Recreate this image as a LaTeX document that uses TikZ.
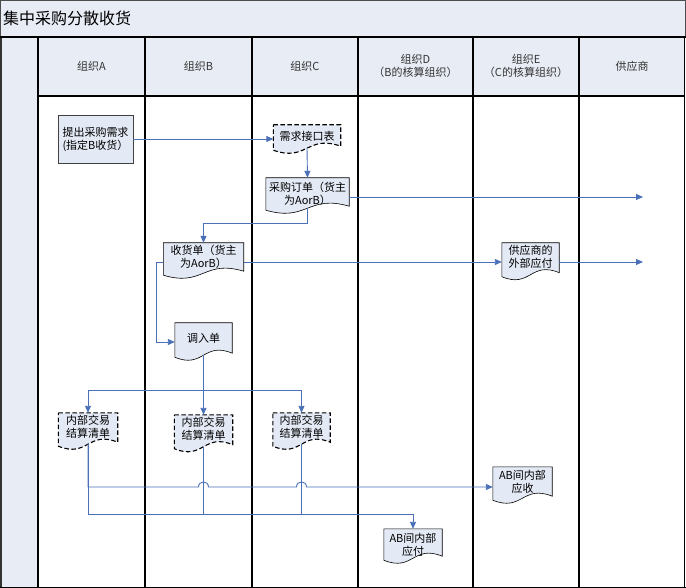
\documentclass[tikz,border=0pt]{standalone}
\usepackage{fontspec}
\setmainfont{Noto Sans CJK SC}
\usetikzlibrary{arrows.meta,calc}
\definecolor{lanefill}{RGB}{232,236,245}
\definecolor{nodefill}{RGB}{228,234,245}
\definecolor{connc}{RGB}{74,112,184}
\pgfdeclarelayer{lanes}
\pgfdeclarelayer{shapes}
\pgfsetlayers{lanes,shapes,main}
\tikzset{
  lbl/.style={font=\fontsize{11}{13}\selectfont, align=center, inner sep=0pt},
  hdr/.style={font=\fontsize{11}{13}\selectfont, align=center, inner sep=0pt, text=black!80},
  boxsz/.style 2 args={lbl, minimum width=#1, minimum height=#2},
  docnode/.style n args={4}{minimum width=#1, minimum height=#2, inner sep=0pt,
     label={[lbl, yshift=#3]center:{#4}}},
  conn/.style={draw=connc, line width=0.9pt, -{Triangle[length=7pt,width=6pt]}},
  plainline/.style={draw=connc, line width=0.9pt},
  docline/.style={draw=black, line width=0.6pt, fill=nodefill},
  docdash/.style={draw=black, fill=nodefill, line width=1.1pt, dash pattern=on 4.5pt off 2.5pt},
  lane/.style={draw=black, line width=1.3pt},
}
\newcommand\docshape[2]{%
  \begin{pgfonlayer}{shapes}
  \path[#2] (#1.north west) -- (#1.north east) -- ($(#1.south east)+(0,-2)$)
    .. controls ($(#1.south)+(0,-14)$) and ($(#1.south)+(0,14)$) .. ($(#1.south west)+(0,2)$) -- cycle;
  \end{pgfonlayer}}
\begin{document}
\begin{tikzpicture}[x=1pt,y=-1pt]
\useasboundingbox (0,0) rectangle (686,588);
\begin{pgfonlayer}{lanes}
  \fill[white] (0,0) rectangle (686,588);
  \path[fill=lanefill, draw=black!70, line width=1pt] (0.5,0.5) rectangle (685.5,37);
  \fill[lanefill] (0,37) rectangle (38,588);
  \fill[lanefill] (38,37) rectangle (685,96);
  \draw[black!80, line width=1.6pt] (0.8,37) -- (0.8,588);
  \draw[lane] (0,37) -- (686,37);
  \draw[lane] (38,96) -- (685,96);
  \draw[lane] (0,587.3) -- (686,587.3);
  \foreach \xx in {38,145,252,358,473,579,684.5} \draw[lane] (\xx,37) -- (\xx,588);
\end{pgfonlayer}
% title and headers
\node[anchor=west, inner sep=0pt, font=\fontsize{16}{18}\selectfont] (title) at (3,18) {集中采购分散收货};
\node[hdr] (hA) at (91.5,66) {组织A};
\node[hdr] (hB) at (198.5,66) {组织B};
\node[hdr] (hC) at (305,66) {组织C};
\node[hdr] (hD) at (415.5,66) {组织D\\（B的核算组织）};
\node[hdr] (hE) at (526,66) {组织E\\（C的核算组织）};
\node[hdr] (hS) at (632,66) {供应商};
% nodes
\node[boxsz={75pt}{48pt}, fill=nodefill, draw=black!75, line width=0.8pt] (n1) at (95.5,139) {提出采购需求\\(指定B收货）};
\node[docnode={67pt}{23pt}{0pt}{需求接口表}] (n2) at (307,136.5) {};
\docshape{n2}{docdash}
\node[docnode={83pt}{30pt}{-1pt}{采购订单（货主\\为AorB）}] (n3) at (307.5,193) {};
\docshape{n3}{docline}
\node[docnode={80pt}{30pt}{1.5pt}{收货单（货主\\为AorB）}] (n4) at (203.5,258) {};
\docshape{n4}{docline}
\node[docnode={57pt}{32pt}{1pt}{调入单}] (n5) at (203.5,339) {};
\docshape{n5}{docline}
\node[docnode={57pt}{31.5pt}{2.25pt}{供应商的\\外部应付}] (n6) at (530.5,258.75) {};
\docshape{n6}{docline}
\node[docnode={59pt}{31pt}{1.5pt}{内部交易\\结算清单}] (n7a) at (88,428.5) {};
\docshape{n7a}{docdash}
\node[docnode={58pt}{31.5pt}{2.25pt}{内部交易\\结算清单}] (n7b) at (203.5,430.75) {};
\docshape{n7b}{docdash}
\node[docnode={57pt}{31pt}{1.5pt}{内部交易\\结算清单}] (n7c) at (301.5,428.5) {};
\docshape{n7c}{docdash}
\node[docnode={59pt}{31pt}{1pt}{AB间内部\\应收}] (n8) at (522.5,482.5) {};
\docshape{n8}{docline}
\node[docnode={58pt}{29pt}{-1.5pt}{AB间内部\\应付}] (n9) at (413,543.5) {};
\docshape{n9}{docline}
% free ends
\coordinate (s1) at (643,197);
\coordinate (r2) at (643,262);
\coordinate (j1) at (203.5,390);
\coordinate (ya) at (0,487);
\coordinate (yb) at (0,514);
% connectors
\draw[conn] (n1.east) -- (n1.east -| n2.west);
\draw[conn] (n2.south) -- (n3.north);
\draw[conn] (n3.east |- s1) -- (s1);
\draw[conn] (n3.south) -- ++(0,15) -| (n4.north);
\draw[conn] (n4.east |- r2) -- (n6.west |- r2);
\draw[conn] (n6.east |- r2) -- (r2);
\draw[conn] (n4.west |- r2) -- ++(-7,0) |- ($(n5.west)+(0,3)$);
\draw[plainline] (n5.south) -- (j1);
\draw[conn] (j1) -- (n7b.north);
\draw[conn] (j1) -| (n7a.north);
\draw[conn] (j1) -| (n7c.north);
\draw[conn] (n7a.south) -- (n7a.south |- ya)
  -- ($(n7b.south |- ya)+(-5,0)$) .. controls +(0,-6.7) and +(0,-6.7) .. ($(n7b.south |- ya)+(5,0)$)
  -- ($(n7c.south |- ya)+(-5,0)$) .. controls +(0,-6.7) and +(0,-6.7) .. ($(n7c.south |- ya)+(5,0)$)
  -- (n8.west |- ya);
\draw[conn] (n7a.south) -- (n7a.south |- yb) -| (n9.north);
\draw[plainline] (n7b.south) -- (n7b.south |- yb);
\draw[plainline] (n7c.south) -- (n7c.south |- yb);
\end{tikzpicture}
\end{document}
